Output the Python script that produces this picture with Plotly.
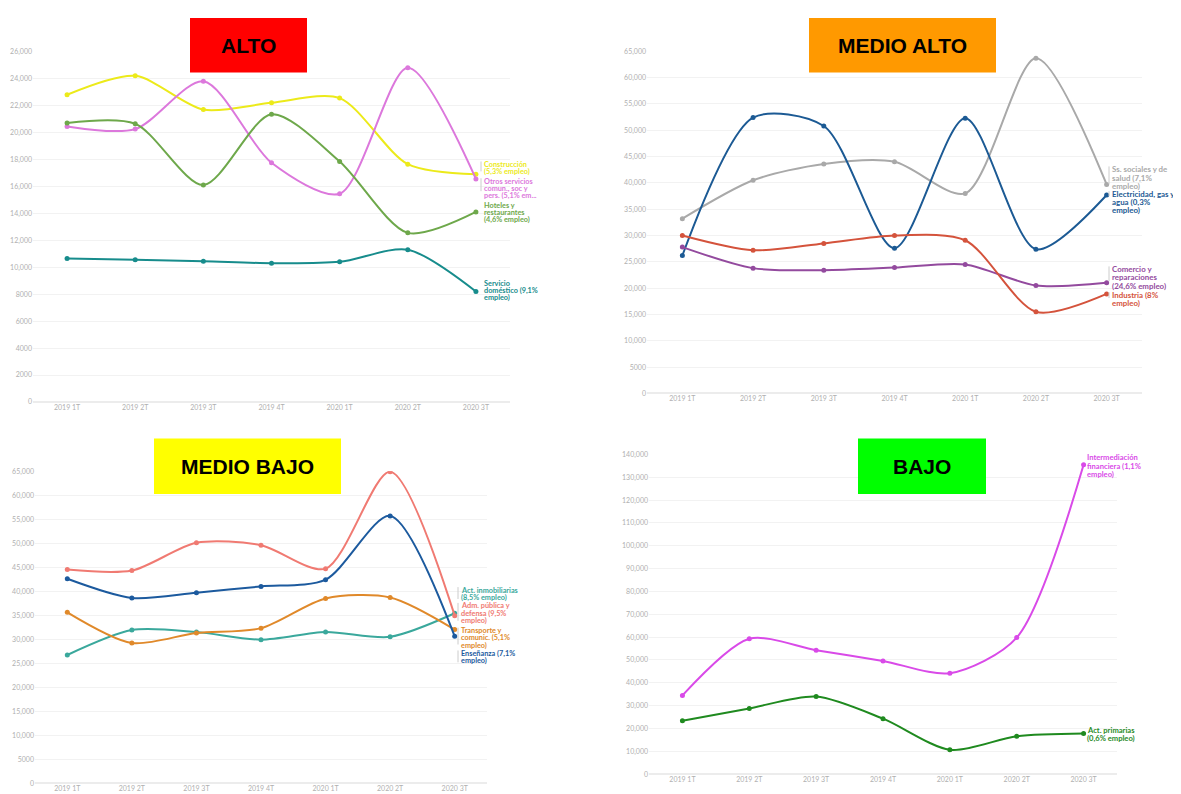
import plotly.graph_objects as go

W, H = 1181, 794
OFF = 8  # page body margin

quarters = ["2019 1T", "2019 2T", "2019 3T", "2019 4T", "2020 1T", "2020 2T", "2020 3T"]

# ALTO
construccion = [22800, 24200, 21700, 22200, 22550, 17650, 16900]
otros_servicios = [20450, 20250, 23800, 17750, 15450, 24800, 16550]
hoteles = [20700, 20650, 16100, 21350, 17850, 12550, 14100]
servicio_domestico = [10650, 10550, 10450, 10300, 10400, 11300, 8200]

# MEDIO ALTO
ss_sociales = [33200, 40500, 43600, 44000, 38000, 63700, 39700]
electricidad = [26200, 52400, 50800, 27600, 52300, 27400, 37700]
industria = [30000, 27200, 28500, 30000, 29100, 15500, 18900]
comercio = [27800, 23800, 23400, 23900, 24500, 20500, 21000]

# MEDIO BAJO
adm_publica = [44500, 44300, 50100, 49600, 44700, 64900, 34900]
ensenanza = [42600, 38600, 39700, 41000, 42400, 55700, 30600]
transporte = [35600, 29200, 31300, 32300, 38500, 38700, 32000]
inmobiliarias = [26700, 31900, 31500, 29900, 31500, 30500, 35400]

# BAJO
intermediacion = [34500, 59300, 54300, 49600, 44200, 59800, 135500]
primarias = [23400, 28800, 34000, 24300, 10700, 16600, 17800]

FW, FH = W - OFF, H - OFF


def px(x):
    return (x - OFF) / FW


def py(y):
    return 1 - (y - OFF) / FH


panels = [
    # (axis suffix, x pixels, y pixels, y max, dtick)
    ("", (33, 510), (47, 401), 26000, 2000),
    ("2", (647, 1142), (46.7, 392.3), 65000, 5000),
    ("3", (35, 487), (471, 786), 65000, 5000),
    ("4", (649, 1117), (454, 777), 140000, 10000),
]

series = [
    # panel index, values, color, label lines, first line y (px)
    (0, construccion, "#ecea1a", ["Construcción", "(5,3% empleo)"], 161),
    (0, otros_servicios, "#dc78dc", ["Otros servicios", "comun., soc y", "pers. (5,1% em..."], 178),
    (0, hoteles, "#6ea84b", ["Hoteles y", "restaurantes", "(4,6% empleo)"], 202),
    (0, servicio_domestico, "#178c8c", ["Servicio", "doméstico (9,1%", "empleo)"], 281),
    (1, ss_sociales, "#a9a9a9", ["Ss. sociales y de", "salud (7,1%", "empleo)"], 166),
    (1, electricidad, "#1c5a94", ["Electricidad, gas y", "agua (0,3%", "empleo)"], 191),
    (1, comercio, "#934a9e", ["Comercio y", "reparaciones", "(24,6% empleo)"], 267),
    (1, industria, "#d4533c", ["Industria (8%", "empleo)"], 293),
    (2, inmobiliarias, "#3aa89c", ["Act. inmobiliarias", "(8,5% empleo)"], 591),
    (2, adm_publica, "#f07a72", ["Adm. pública y", "defensa (9,5%", "empleo)"], 607),
    (2, transporte, "#e0892a", ["Transporte y", "comunic. (5,1%", "empleo)"], 632),
    (2, ensenanza, "#1c5a9e", ["Enseñanza (7,1%", "empleo)"], 655),
    (3, intermediacion, "#d94ae8", ["Intermediación", "financiera (1,1%", "empleo)"], 457),
    (3, primarias, "#1f8a1f", ["Act. primarias", "(0,6% empleo)"], 732),
]

label_x = [483, 1111, 460, 1086]
label_size = [7.3, 7.9, 7.3, 7.6]
label_step = [7.3, 8.2, 7.3, 8.2]

titles = [
    ("ALTO", "#ff0000", (190, 307), (13, 68)),
    ("MEDIO ALTO", "#ff9900", (809, 996), (13, 68)),
    ("MEDIO BAJO", "#ffff00", (154, 341), (438, 494)),
    ("BAJO", "#00ff00", (858, 986), (438, 494)),
]

fig = go.Figure()

for idx, values, color, lines, ly in series:
    suffix = panels[idx][0]
    fig.add_trace(go.Scatter(
        x=quarters,
        y=values,
        mode="lines+markers",
        line=dict(color=color, width=2, shape="spline", smoothing=0.8),
        marker=dict(size=5, color=color),
        xaxis="x" + suffix,
        yaxis="y" + suffix,
        showlegend=False,
        hoverinfo="skip",
    ))
    for i, line in enumerate(lines):
        fig.add_annotation(
            text="<b>" + line + "</b>",
            xref="paper", yref="paper",
            x=px(label_x[idx]), y=py(ly + i * label_step[idx]),
            xanchor="left", yanchor="middle", align="left",
            showarrow=False, borderpad=0,
            font=dict(family="Lato", size=label_size[idx], color=color),
        )

layout = {}
for suffix, (x0, x1), (y0, y1), ymax, dtick in panels:
    layout["xaxis" + suffix] = dict(
        domain=[px(x0), px(x1)],
        anchor="y" + suffix,
        type="category",
        range=[-0.5, 6.5],
        showgrid=False,
        showline=False,
        ticks="",
        tickfont=dict(family="Lato", size=7, color="#b0b0b0"),
    )
    layout["yaxis" + suffix] = dict(
        domain=[py(y1), py(y0)],
        anchor="x" + suffix,
        range=[0, ymax],
        dtick=dtick,
        exponentformat="none",
        gridcolor="#f2f2f2",
        gridwidth=1,
        zeroline=True,
        zerolinecolor="#ececec",
        showline=False,
        ticks="",
        tickfont=dict(family="Lato", size=7, color="#b0b0b0"),
    )

shapes = []
for text, fill, (x0, x1), (y0, y1) in titles:
    shapes.append(dict(
        type="rect", xref="paper", yref="paper",
        x0=px(x0), x1=px(x1), y0=py(y1), y1=py(y0),
        fillcolor=fill, line=dict(width=0), layer="above",
    ))
    fig.add_annotation(
        text="<b>" + text + "</b>",
        xref="paper", yref="paper",
        x=px((x0 + x1) / 2), y=py((y0 + y1) / 2),
        xanchor="center", yanchor="middle", showarrow=False,
        font=dict(family="Liberation Sans", size=21, color="#000000"),
    )

# small grey leader brackets next to the end labels
for x, y0, y1 in [(481, 158, 168), (481, 175, 188), (1109, 163, 181), (1109, 188, 193),
                  (1109, 264, 279), (1109, 290, 296), (458, 588, 600), (458, 604, 622),
                  (458, 629, 646), (458, 652, 664)]:
    shapes.append(dict(
        type="line", xref="paper", yref="paper",
        x0=px(x), x1=px(x), y0=py(y0), y1=py(y1),
        line=dict(color="#cccccc", width=1),
    ))

fig.update_layout(
    **layout,
    shapes=shapes,
    width=FW,
    height=FH,
    margin=dict(l=0, r=0, t=0, b=0),
    paper_bgcolor="white",
    plot_bgcolor="white",
    font=dict(family="Lato"),
)

fig.write_html("out.html")
